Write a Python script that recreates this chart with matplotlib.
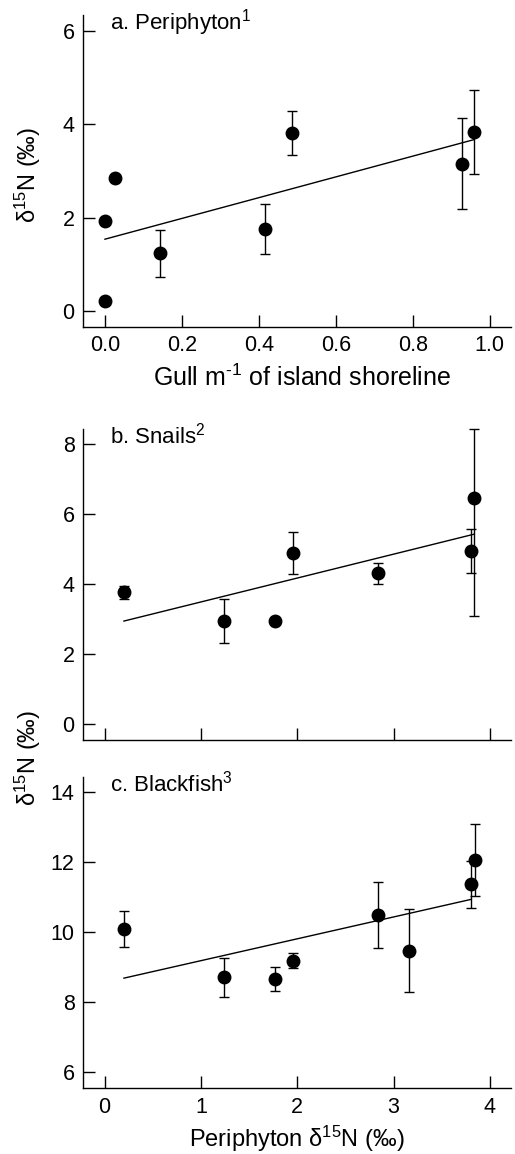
import matplotlib
matplotlib.use("Agg")
import matplotlib.pyplot as plt
import numpy as np

plt.rcParams['font.family'] = ['Liberation Sans', 'DejaVu Sans']
plt.rcParams['mathtext.fontset'] = 'custom'
plt.rcParams['mathtext.rm'] = 'Liberation Sans'
plt.rcParams['mathtext.it'] = 'Liberation Sans'

# a. periphyton vs gull density
gull_x = [0.0, 0.0, 0.026, 0.143, 0.417, 0.485, 0.927, 0.958]
peri_y = [0.21, 1.94, 2.84, 1.24, 1.76, 3.81, 3.16, 3.84]
peri_err = [0.0, 0.0, 0.0, 0.50, 0.53, 0.47, 0.97, 0.90]
peri_fit_x = [0.0, 0.958]
peri_fit_y = [1.54, 3.67]

# b. snails vs periphyton
snail_x = [0.20, 1.24, 1.77, 1.95, 2.84, 3.80, 3.83]
snail_y = [3.77, 2.95, 2.95, 4.90, 4.32, 4.96, 6.48]
snail_err_lo = [0.18, 0.62, 0.0, 0.61, 0.30, 0.63, 3.38]
snail_err_hi = [0.18, 0.62, 0.0, 0.61, 0.30, 0.63, 1.96]
snail_fit_x = [0.20, 3.83]
snail_fit_y = [2.95, 5.43]

# c. blackfish vs periphyton
fish_x = [0.20, 1.24, 1.77, 1.96, 2.84, 3.16, 3.80, 3.84]
fish_y = [10.10, 8.71, 8.66, 9.19, 10.50, 9.48, 11.37, 12.07]
fish_err = [0.52, 0.55, 0.35, 0.22, 0.94, 1.20, 0.67, 1.03]
fish_fit_x = [0.20, 3.80]
fish_fit_y = [8.69, 10.94]

TICK_FS = 15.5
LABEL_FS = 17
TITLE_FS = 16

W, H = 515, 1154
fig = plt.figure(figsize=(W / 100, H / 100), dpi=100)

def make_ax(top, bottom):
    return fig.add_axes([83 / W, 1 - bottom / H, (511 - 83) / W, (bottom - top) / H])

def style(ax):
    for s in ['top', 'right']:
        ax.spines[s].set_visible(False)
    for s in ['left', 'bottom']:
        ax.spines[s].set_linewidth(1.0)
    ax.tick_params(direction='in', length=8.5, width=1.0, labelsize=TICK_FS)
    ax.tick_params(axis='y', pad=6)
    ax.tick_params(axis='x', pad=6)

def draw(ax, x, y, err, fx, fy):
    ax.errorbar(x, y, yerr=err, fmt='o', color='black', ms=9, elinewidth=1.0,
                capsize=3.6, capthick=1.0, clip_on=False, zorder=3)
    ax.plot(fx, fy, color='black', lw=1.0)

ax1 = make_ax(15, 327)
draw(ax1, gull_x, peri_y, peri_err, peri_fit_x, peri_fit_y)
ax1.set_xlim(-0.057, 1.055)
ax1.set_ylim(-0.34, 6.34)
ax1.set_xticks(np.arange(0, 1.01, 0.2))
ax1.set_xticklabels(['0.0', '0.2', '0.4', '0.6', '0.8', '1.0'])
ax1.set_yticks([0, 2, 4, 6])
style(ax1)
ax1.text(0.063, 0.954, r'a. Periphyton$^{1}$', transform=ax1.transAxes, fontsize=TITLE_FS, va='baseline')
fig.text(0.5 * (83 + 511) / W + 0.01, 1 - 386 / H, r'Gull m$^{‐1}$ of island shoreline',
         ha='center', va='baseline', fontsize=18)
fig.text(28 / W, 1 - 175 / H, r'δ$^{15}$N (‰)', rotation=90, ha='center', va='center', fontsize=LABEL_FS)

ax2 = make_ax(429, 740)
draw(ax2, snail_x, snail_y, [snail_err_lo, snail_err_hi], snail_fit_x, snail_fit_y)
ax2.set_xlim(-0.225, 4.218)
ax2.set_ylim(-0.45, 8.44)
ax2.set_xticks([0, 1, 2, 3, 4])
ax2.set_xticklabels([])
ax2.set_yticks([0, 2, 4, 6, 8])
style(ax2)
ax2.text(0.063, 0.954, r'b. Snails$^{2}$', transform=ax2.transAxes, fontsize=TITLE_FS, va='baseline')

ax3 = make_ax(776.7, 1088.3)
draw(ax3, fish_x, fish_y, fish_err, fish_fit_x, fish_fit_y)
ax3.set_xlim(-0.225, 4.218)
ax3.set_ylim(5.54, 14.45)
ax3.set_xticks([0, 1, 2, 3, 4])
ax3.set_yticks([6, 8, 10, 12, 14])
style(ax3)
ax3.text(0.063, 0.954, r'c. Blackfish$^{3}$', transform=ax3.transAxes, fontsize=TITLE_FS, va='baseline')
fig.text(0.5 * (83 + 511) / W, 1 - 1147 / H, r'Periphyton δ$^{15}$N (‰)',
         ha='center', va='baseline', fontsize=LABEL_FS)
fig.text(28 / W, 1 - 758 / H, r'δ$^{15}$N (‰)', rotation=90, ha='center', va='center', fontsize=LABEL_FS)

fig.savefig('out.png', dpi=100)
